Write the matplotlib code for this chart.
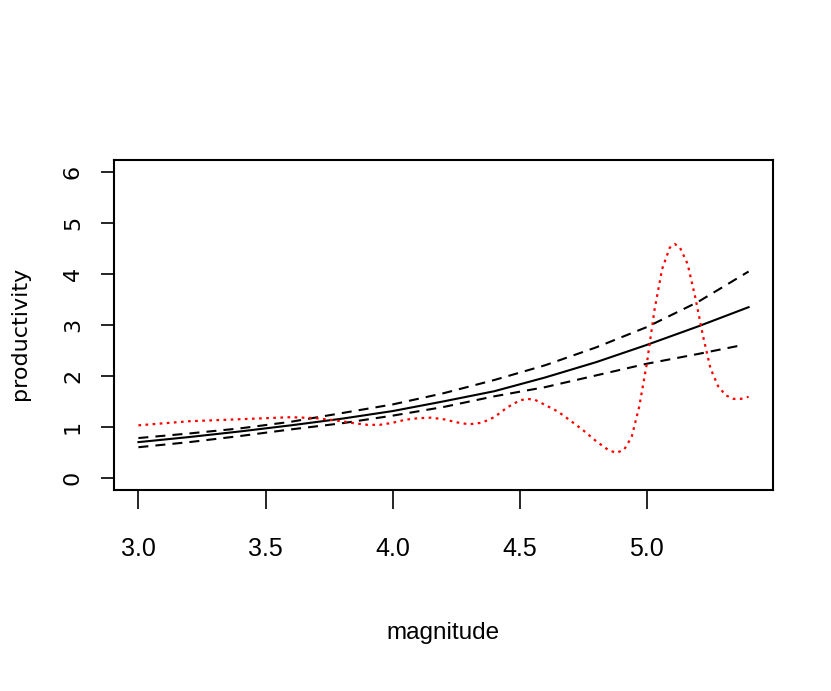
import matplotlib
matplotlib.use("Agg")
import matplotlib.pyplot as plt

# fitted curve and its band
mag = [3.0, 3.2, 3.4, 3.6, 3.8, 4.0, 4.2, 4.4, 4.6, 4.8, 5.0, 5.2, 5.4]
fit = [0.70, 0.80, 0.91, 1.03, 1.16, 1.31, 1.50, 1.70, 1.97, 2.27, 2.61, 2.97, 3.35]
upper = [0.78, 0.87, 0.97, 1.10, 1.27, 1.44, 1.66, 1.92, 2.21, 2.56, 2.96, 3.45, 4.05]
lower_mag = [3.0, 3.2, 3.4, 3.6, 3.8, 4.0, 4.2, 4.4, 4.6, 4.8, 5.0, 5.2, 5.38]
lower = [0.60, 0.70, 0.82, 0.95, 1.07, 1.22, 1.39, 1.60, 1.78, 2.01, 2.24, 2.43, 2.61]

# empirical (red dotted) curve
emp_mag = [3.0, 3.1, 3.2, 3.3, 3.4, 3.5, 3.6, 3.7, 3.8, 3.85, 3.9, 3.95, 4.0,
           4.05, 4.1, 4.15, 4.2, 4.25, 4.3, 4.35, 4.4, 4.45, 4.5, 4.53, 4.56,
           4.6, 4.65, 4.7, 4.75, 4.8, 4.85, 4.88, 4.91, 4.94, 4.97, 5.0, 5.03,
           5.06, 5.09, 5.11, 5.13, 5.16, 5.19, 5.22, 5.25, 5.28, 5.31, 5.34,
           5.37, 5.4]
emp = [1.03, 1.07, 1.11, 1.13, 1.15, 1.17, 1.19, 1.17, 1.11, 1.07, 1.04, 1.04, 1.08,
       1.14, 1.17, 1.18, 1.15, 1.09, 1.05, 1.08, 1.19, 1.38, 1.52, 1.55, 1.53,
       1.43, 1.30, 1.12, 0.93, 0.72, 0.54, 0.49, 0.55, 0.80, 1.40, 2.25, 3.30,
       4.10, 4.52, 4.59, 4.52, 4.20, 3.55, 2.80, 2.15, 1.80, 1.62, 1.55,
       1.55, 1.59]

xticks = [3.0, 3.5, 4.0, 4.5, 5.0]
xticklabels = ["3.0", "3.5", "4.0", "4.5", "5.0"]
yticks = [0, 1, 2, 3, 4, 5, 6]

fig = plt.figure(figsize=(8.31, 6.91), dpi=100)
ax = fig.add_axes([114 / 831, 201 / 691, 659 / 831, 330 / 691])

ax.plot(mag, fit, color="black", lw=1.5)
ax.plot(mag, upper, color="black", lw=1.5, dashes=(4.8, 3.4))
ax.plot(lower_mag, lower, color="black", lw=1.5, dashes=(4.8, 3.4))
ax.plot(emp_mag, emp, color="#ff0000", lw=1.6, dashes=(1.2, 2.0))

ax.set_xlim(2.904, 5.496)
ax.set_ylim(-0.24, 6.24)

ax.set_xticks(xticks, xticklabels)
ax.set_yticks(yticks, [str(v) for v in yticks])
ax.tick_params(axis="x", length=14, width=1.2, pad=20, labelsize=18)
ax.tick_params(axis="y", length=9.4, width=1.2, pad=13, labelsize=16,
               labelrotation=90)
for lab in ax.get_xticklabels():
    lab.set_family("Liberation Sans")
for lab in ax.get_yticklabels():
    lab.set_family("DejaVu Sans")
    lab.set_va("center")

for s in ax.spines.values():
    s.set_linewidth(1.5)

ax.set_xlabel("magnitude", family="Liberation Sans", fontsize=17.5)
ax.xaxis.label.set_va("center")
ax.xaxis.set_label_coords(0.5, (490 - 633) / 330)
ax.set_ylabel("productivity", family="DejaVu Sans", fontsize=16)
ax.yaxis.label.set_va("center")
ax.yaxis.set_label_coords((20 - 114) / 659, (490 - 333) / 330)

fig.savefig("out.png", dpi=100)
